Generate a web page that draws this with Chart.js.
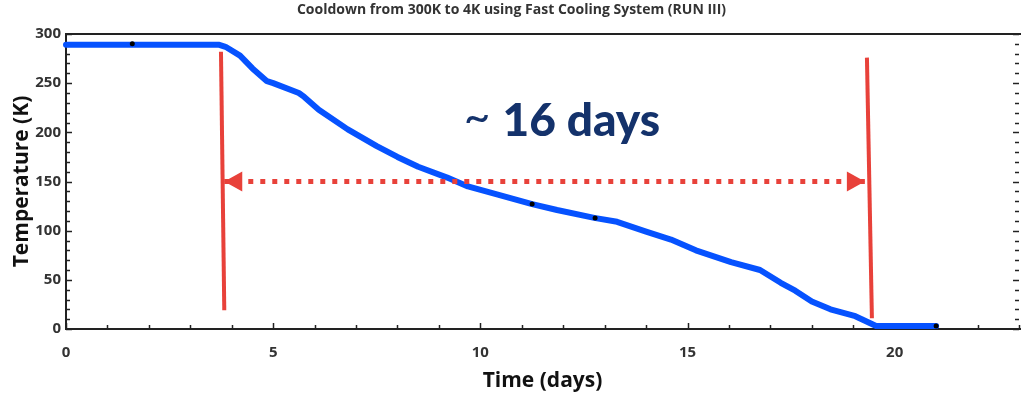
<!DOCTYPE html>
<html>
<head>
<meta charset="utf-8">
<script src="https://cdn.jsdelivr.net/npm/chart.js@4.4.1/dist/chart.umd.min.js"></script>
<style>
  html, body { margin: 0; padding: 0; background: #ffffff; }
  #wrap { width: 1023px; height: 400px; }
</style>
</head>
<body>
<div id="wrap"><canvas id="c" width="1023" height="400"></canvas></div>
<script>
// Cooldown curve: time in days, temperature in kelvin
const timeDays = [0, 3.70, 3.85, 4.2, 4.5, 4.85, 5.0, 5.62, 5.75, 6.1, 6.8, 7.5, 8.0, 8.5, 9.2, 9.7, 10.4, 11.25, 11.85, 12.75, 13.3, 14.0, 14.6, 15.2, 16.05, 16.75, 17.25, 17.6, 18.0, 18.45, 19.05, 19.45, 19.55, 20.0, 21.0];
const tempK    = [289, 289, 287, 278, 265, 252, 250, 240, 236, 223, 203, 186, 175, 165, 154, 145, 137, 127, 121, 113, 109, 99, 91, 80, 68, 60, 47, 39, 28, 20, 13, 5, 3, 3, 3];

// Logged sample markers on the curve
const markerDays = [1.6, 11.25, 12.77, 21.0];
const markerTemp = [290, 127, 113, 3];

// Start / end of the cooldown interval (red guide lines)
const startLineDays = [3.74, 3.82];
const startLineTemp = [282, 19];
const endLineDays   = [19.33, 19.45];
const endLineTemp   = [276, 11];

// Double arrow spanning the interval
const arrowDays = [3.82, 19.28];
const arrowTemp = [150, 150];

// Interval label and its anchor (left edge, baseline)
const spanLabel = ['~', '16 days'];
const spanLabelAt = [9.6, 196];

// Axis ranges and tick labels
const xRange = [0, 23];
const yRange = [0, 300];
const xMajor = [0, 5, 10, 15, 20];
const yMajor = [0, 50, 100, 150, 200, 250, 300];

const toPts = (xs, ys) => xs.map((x, i) => ({ x, y: ys[i] }));

const RED = '#e8413a';
const BLUE = '#0652ff';
const INK = '#222222';

// Frame and inward-pointing tick marks
const framePlugin = {
  id: 'frame',
  beforeDatasetsDraw(chart) {
    const { ctx, chartArea: a, scales: { x, y } } = chart;
    ctx.save();
    ctx.strokeStyle = INK;
    ctx.lineWidth = 1.5;
    // minor + major ticks, bottom edge
    for (let d = xRange[0]; d <= xRange[1]; d += 1) {
      const px = Math.round(x.getPixelForValue(d)) + 0.5;
      const len = xMajor.includes(d) ? 6 : 4;
      ctx.beginPath(); ctx.moveTo(px, a.bottom); ctx.lineTo(px, a.bottom - len); ctx.stroke();
    }
    // ticks on left and right edges
    for (let t = yRange[0]; t <= yRange[1]; t += 10) {
      const py = Math.round(y.getPixelForValue(t)) + 0.5;
      const len = yMajor.includes(t) ? 6 : 4;
      ctx.beginPath(); ctx.moveTo(a.left, py); ctx.lineTo(a.left + len, py); ctx.stroke();
      ctx.beginPath(); ctx.moveTo(a.right, py); ctx.lineTo(a.right - len, py); ctx.stroke();
    }
    ctx.lineWidth = 2;
    ctx.beginPath();
    ctx.moveTo(a.right + 2, a.top); ctx.lineTo(a.left, a.top);
    ctx.lineTo(a.left, a.bottom); ctx.lineTo(a.right + 2, a.bottom);
    ctx.stroke();
    ctx.restore();
  }
};

// Arrow heads and the interval label
const annotatePlugin = {
  id: 'annotate',
  afterDatasetsDraw(chart) {
    const { ctx, scales: { x, y } } = chart;
    ctx.save();
    ctx.fillStyle = RED;
    const yy = y.getPixelForValue(arrowTemp[0]);
    const xl = x.getPixelForValue(arrowDays[0]);
    const xr = x.getPixelForValue(arrowDays[1]);
    const L = 18, H = 10;
    ctx.beginPath(); ctx.moveTo(xl, yy); ctx.lineTo(xl + L, yy - H); ctx.lineTo(xl + L, yy + H); ctx.closePath(); ctx.fill();
    ctx.beginPath(); ctx.moveTo(xr, yy); ctx.lineTo(xr - L, yy - H); ctx.lineTo(xr - L, yy + H); ctx.closePath(); ctx.fill();

    const lx = x.getPixelForValue(spanLabelAt[0]);
    const ly = y.getPixelForValue(spanLabelAt[1]);
    ctx.fillStyle = '#14326b';
    ctx.textBaseline = 'alphabetic';
    ctx.textAlign = 'left';
    ctx.font = '400 46px Lato';
    ctx.fillText(spanLabel[0], lx, ly - 3);
    const w = ctx.measureText(spanLabel[0]).width;
    ctx.font = '900 46px Lato';
    ctx.fillText(spanLabel[1], lx + w + 12, ly);
    ctx.restore();
  }
};

new Chart(document.getElementById('c'), {
  type: 'scatter',
  data: {
    datasets: [
      {
        data: toPts(timeDays, tempK), showLine: true, borderColor: BLUE, borderWidth: 6, order: 10,
        pointRadius: 0, tension: 0, clip: false, borderCapStyle: 'round', borderJoinStyle: 'round'
      },
      {
        data: toPts(markerDays, markerTemp), pointRadius: 2.5, backgroundColor: '#000', borderWidth: 0, clip: false, order: 5
      },
      {
        data: toPts(startLineDays, startLineTemp), showLine: true, borderColor: RED, borderWidth: 4, pointRadius: 0, order: 1
      },
      {
        data: toPts(endLineDays, endLineTemp), showLine: true, borderColor: RED, borderWidth: 4, pointRadius: 0, order: 1
      },
      {
        data: toPts(arrowDays, arrowTemp), showLine: true, borderColor: RED, borderWidth: 5, order: 1,
        borderDash: [5, 7], borderDashOffset: -12, pointRadius: 0
      }
    ]
  },
  options: {
    responsive: false,
    animation: false,
    events: [],
    layout: { padding: { left: 0, right: 0, top: 0, bottom: 0 } },
    plugins: {
      legend: { display: false },
      tooltip: { enabled: false },
      title: {
        display: true,
        text: 'Cooldown from 300K to 4K using Fast Cooling System (RUN III)',
        color: '#333333',
        font: { family: 'Open Sans', size: 14, weight: '700' },
        padding: { top: 2, bottom: 15.2 }
      }
    },
    scales: {
      x: {
        type: 'linear', min: xRange[0], max: xRange[1],
        afterBuildTicks: s => { s.ticks = xMajor.map(v => ({ value: v })); },
        afterFit: s => { s.height = 71; },
        grid: { display: false, drawTicks: false },
        border: { display: false },
        ticks: { color: '#333333', font: { family: 'Open Sans', size: 15, weight: '700' }, padding: 15, maxRotation: 0 },
        title: { display: true, text: 'Time (days)', color: '#111111', font: { family: 'Open Sans', size: 21, weight: '700' }, padding: { top: 0, bottom: 6.5 } }
      },
      y: {
        type: 'linear', min: yRange[0], max: yRange[1],
        afterBuildTicks: s => { s.ticks = yMajor.map(v => ({ value: v })); },
        afterFit: s => { s.width = 66; },
        grid: { display: false, drawTicks: false },
        border: { display: false },
        ticks: { color: '#333333', font: { family: 'Open Sans', size: 15, weight: '700' }, padding: 5 },
        title: { display: true, text: 'Temperature (K)', color: '#111111', font: { family: 'Open Sans', size: 21, weight: '700' }, padding: { top: 9.4, bottom: 0 } }
      }
    }
  },
  plugins: [framePlugin, annotatePlugin]
});
</script>
</body>
</html>
